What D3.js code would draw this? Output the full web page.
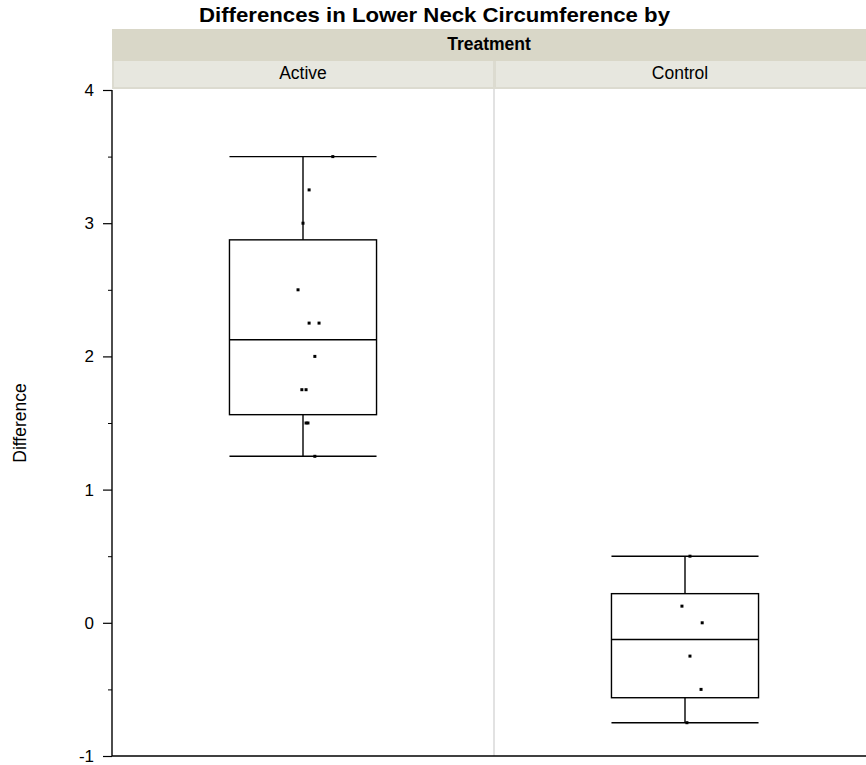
<!doctype html>
<html>
  <head>
    <meta charset='utf-8'>
    <style>
      body { margin: 0; background: #fff; }
      svg { display: block; font-family: 'Liberation Sans', Arial, sans-serif; }
    </style>
  </head>
  <body>
    <svg id='chart0'></svg>

    <script src='https://d3js.org/d3.v7.min.js'></script>
    <script>
      const groups = ['Active', 'Control'];
      const active_values = [3.5, 3.25, 3.0, 2.5, 2.25, 2.25, 2.0, 1.75, 1.75, 1.5, 1.5, 1.25];
      const control_values = [0.5, 0.125, 0.0, -0.25, -0.5, -0.75];
      // Horizontal jitter of each point, as a fraction of panel width.
      const active_jitter = [0.078, 0.016, 0.0, -0.013, 0.016, 0.042, 0.031, -0.003, 0.008, 0.008, 0.013, 0.031];
      const control_jitter = [0.013, -0.008, 0.045, 0.013, 0.042, 0.005];
      const y_ticks = [-1, 0, 1, 2, 3, 4];
      const y_minor = [-0.5, 0.5, 1.5, 2.5, 3.5];

      const width = 866;
      const height = 765;
      const margin = ({top: 90, right: -10, bottom: 9, left: 112});

      const svg = d3.select('svg#chart0')
                    .attr('width', width)
                    .attr('height', height);

      const x_band = d3.scaleBand()
                       .domain(groups)
                       .range([margin.left, width - margin.right]);

      const y = d3.scaleLinear()
                  .domain([-1, 4])
                  .range([height - margin.bottom, margin.top]);

      // JMP style quantiles: position (n+1)p
      function quantile(sorted, p) {
          const pos = (sorted.length + 1) * p;
          const i = Math.floor(pos);
          const f = pos - i;
          if (i < 1) return sorted[0];
          if (i >= sorted.length) return sorted[sorted.length - 1];
          return sorted[i - 1] + f * (sorted[i] - sorted[i - 1]);
      }

      const data = [
          {group: 'Active', values: active_values, jitter: active_jitter},
          {group: 'Control', values: control_values, jitter: control_jitter},
      ].map(d => {
          const s = d.values.slice().sort(d3.ascending);
          return {...d, min: s[0], max: s[s.length - 1],
                  q1: quantile(s, 0.25), med: quantile(s, 0.5), q3: quantile(s, 0.75)};
      });

      // title
      svg.append('text')
         .attr('x', 434.5)
         .attr('y', 22)
         .attr('text-anchor', 'middle')
         .attr('font-size', 21)
         .attr('font-weight', 'bold')
         .attr('textLength', 471)
         .attr('lengthAdjust', 'spacingAndGlyphs')
         .text('Differences in Lower Neck Circumference by');

      // header bands
      svg.append('rect')
         .attr('x', margin.left).attr('y', 29)
         .attr('width', width - margin.left).attr('height', 32)
         .attr('fill', '#d9d7c8');
      svg.append('text')
         .attr('x', 489).attr('y', 50)
         .attr('text-anchor', 'middle')
         .attr('font-size', 17.5)
         .attr('font-weight', 'bold')
         .text('Treatment');

      const head = svg.append('g').selectAll('g')
                      .data(groups)
                      .join('g');
      head.append('rect')
          .attr('x', d => x_band(d))
          .attr('y', 61)
          .attr('width', x_band.bandwidth())
          .attr('height', 28)
          .attr('fill', '#dcdbd0');
      head.append('rect')
          .attr('x', d => x_band(d) + 2)
          .attr('y', 61)
          .attr('width', x_band.bandwidth() - 3)
          .attr('height', 26)
          .attr('fill', '#e7e7df');
      head.append('text')
          .attr('x', d => (x_band(d) + Math.min(x_band(d) + x_band.bandwidth(), width)) / 2)
          .attr('y', 79)
          .attr('text-anchor', 'middle')
          .attr('font-size', 17.5)
          .text(d => d);

      // panel divider
      svg.append('line')
         .attr('x1', x_band('Control')).attr('x2', x_band('Control'))
         .attr('y1', 89).attr('y2', height - margin.bottom)
         .attr('stroke', '#d9d9d9')
         .attr('stroke-width', 1.5);

      // boxes
      const box_w = x_band.bandwidth() * 0.385;
      const box = svg.append('g').selectAll('g')
                     .data(data)
                     .join('g')
                     .attr('transform', d => `translate(${x_band(d.group) + x_band.bandwidth() / 2},0)`)
                     .attr('stroke', '#000')
                     .attr('stroke-width', 1.4)
                     .attr('fill', 'none');
      box.append('line')
         .attr('x1', 0).attr('x2', 0)
         .attr('y1', d => y(d.max)).attr('y2', d => y(d.min));
      box.append('rect')
         .attr('x', -box_w / 2)
         .attr('y', d => y(d.q3))
         .attr('width', box_w)
         .attr('height', d => y(d.q1) - y(d.q3))
         .attr('fill', '#fff');
      box.append('line')
         .attr('x1', -box_w / 2).attr('x2', box_w / 2)
         .attr('y1', d => y(d.med)).attr('y2', d => y(d.med));
      box.selectAll('line.cap')
         .data(d => [d.min, d.max])
         .join('line')
         .attr('class', 'cap')
         .attr('x1', -box_w / 2).attr('x2', box_w / 2)
         .attr('y1', d => y(d)).attr('y2', d => y(d));

      // points
      box.selectAll('rect.pt')
         .data(d => d.values.map((v, i) => [v, d.jitter[i]]))
         .join('rect')
         .attr('class', 'pt')
         .attr('x', d => d[1] * x_band.bandwidth() - 1.5)
         .attr('y', d => y(d[0]) - 1.5)
         .attr('width', 3)
         .attr('height', 3)
         .attr('stroke', 'none')
         .attr('fill', '#000');

      // y axis
      const y_axis = svg.append('g')
                        .attr('transform', `translate(${margin.left},0)`)
                        .call(d3.axisLeft(y).tickValues(y_ticks).tickSize(9).tickPadding(9).tickFormat(d => String(d)));
      y_axis.select('.domain')
            .attr('d', `M0,${y(4)}V${y(-1)}`)
            .attr('stroke-width', 1.4);
      y_axis.selectAll('.tick line').attr('stroke-width', 1.2);
      y_axis.selectAll('.tick text')
            .attr('font-size', 17)
            .attr('font-family', "'Liberation Sans', Arial, sans-serif");
      svg.append('g')
         .attr('transform', `translate(${margin.left},0)`)
         .call(d3.axisLeft(y).tickValues(y_minor).tickSize(4).tickFormat(''))
         .call(g => g.select('.domain').remove());

      // bottom line
      svg.append('line')
         .attr('x1', margin.left).attr('x2', width)
         .attr('y1', y(-1)).attr('y2', y(-1))
         .attr('stroke', '#000')
         .attr('stroke-width', 1.4);

      svg.append('text')
         .attr('transform', `translate(26,${(y(4) + y(-1)) / 2}) rotate(-90)`)
         .attr('text-anchor', 'middle')
         .attr('font-size', 17.5)
         .text('Difference');
    </script>
  </body>
</html>
